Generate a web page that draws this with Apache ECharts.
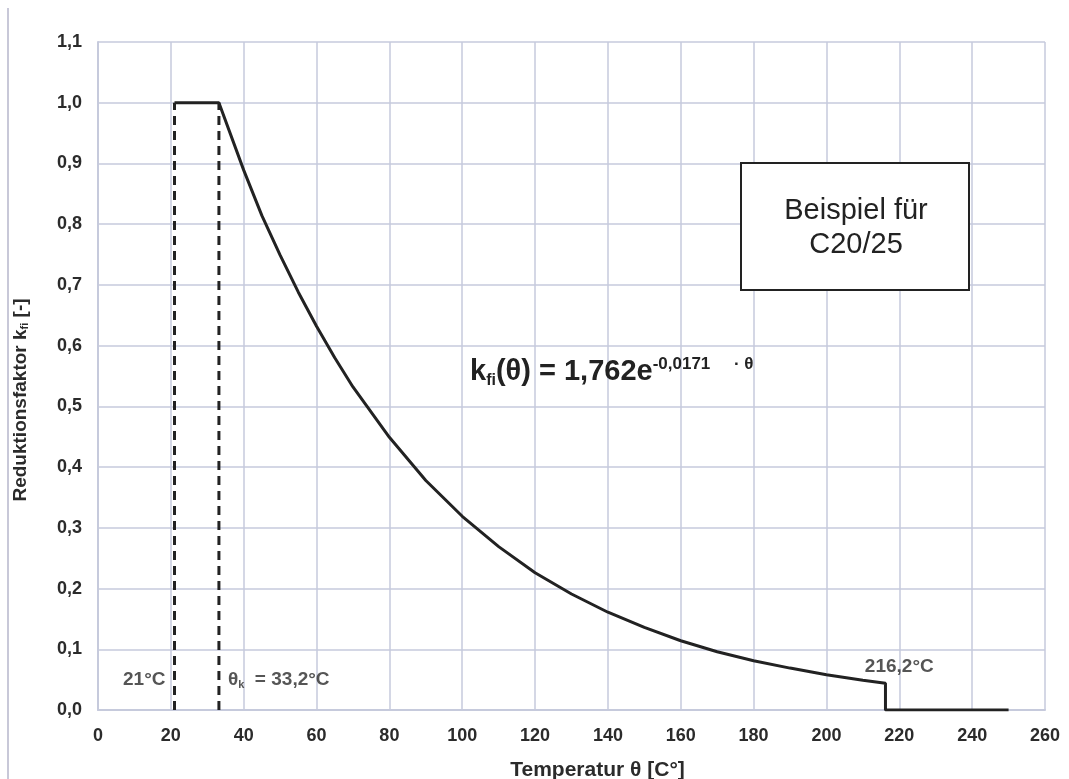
<!DOCTYPE html>
<html><head><meta charset="utf-8">
<script src="https://cdn.jsdelivr.net/npm/echarts@6/dist/echarts.min.js"></script>
<style>html,body{margin:0;padding:0;background:#fff}#c{width:1069px;height:779px}</style>
</head><body><div id="c"></div>
<script>
// Temperatures (°C) and reduction factor k_fi
const curveTemps = [21, 33.2, 40, 45, 50, 55, 60, 65, 70, 80, 90, 100, 110, 120, 130, 140, 150, 160, 170, 180, 190, 200, 210, 216.2, 216.2, 250];
const curveValues = [1.0, 1.0, 0.889, 0.814, 0.749, 0.688, 0.632, 0.580, 0.532, 0.449, 0.378, 0.319, 0.269, 0.226, 0.191, 0.161, 0.136, 0.114, 0.096, 0.081, 0.069, 0.058, 0.049, 0.044, 0.0, 0.0];
const dashedTemps = [21, 33.2];
const dashedTop = 1.0;
const xTicks = [0, 20, 40, 60, 80, 100, 120, 140, 160, 180, 200, 220, 240, 260];
const yTicks = [0, 0.1, 0.2, 0.3, 0.4, 0.5, 0.6, 0.7, 0.8, 0.9, 1.0, 1.1];
const annotations = [
  {text: '21°C', x: 21, y: 0.05, pos: 'left'},
  {text: '{b|θ}{s|k}{b|  = 33,2°C}', x: 33.2, y: 0.05, pos: 'right'},
  {text: '216,2°C', x: 220, y: 0.072, pos: 'inside'}
];

const FONT = '"Liberation Sans", Arial, sans-serif';
const INK = '#2b2b2b';
const GRID = '#c6cadc';
const chart = echarts.init(document.getElementById('c'), null, {renderer: 'canvas'});
const series = [{
  type: 'line',
  data: curveTemps.map((t, i) => [t, curveValues[i]]),
  showSymbol: false,
  lineStyle: {color: '#222', width: 3},
  z: 5
}];
dashedTemps.forEach(t => series.push({
  type: 'line',
  data: [[t, 0], [t, dashedTop]],
  showSymbol: false,
  lineStyle: {color: '#222', width: 3, type: [9, 6]},
  z: 4
}));
series.push({
  type: 'scatter',
  symbolSize: 0,
  data: annotations.map(a => ({
    value: [a.x, a.y],
    label: {show: true, position: a.pos, distance: 9, formatter: a.text}
  })),
  label: {
    color: INK, fontSize: 19, fontWeight: 'bold', fontFamily: FONT,
    rich: {
      b: {fontSize: 19, fontWeight: 'bold', fontFamily: FONT, color: INK},
      s: {fontSize: 11, fontWeight: 'bold', fontFamily: FONT, color: INK, padding: [10, 0, 0, 0]}
    }
  },
  silent: true, z: 6
});

chart.setOption({
  animation: false,
  backgroundColor: '#fff',
  grid: {left: 98, right: 24, top: 42, bottom: 69, containLabel: false, outerBoundsMode: 'none'},
  xAxis: {
    type: 'value', min: 0, max: 260, interval: 20,
    name: 'Temperatur θ [C°]', nameLocation: 'middle', nameGap: 50,
    nameTextStyle: {fontFamily: FONT, fontWeight: 'bold', fontSize: 21, color: INK, padding: [0, 0, 0, 52]},
    axisLine: {show: true, lineStyle: {color: GRID, width: 2}},
    axisTick: {show: false},
    axisLabel: {fontFamily: FONT, fontWeight: 'bold', fontSize: 18, color: INK, margin: 17,
      formatter: v => xTicks.includes(v) ? String(v) : ''},
    splitLine: {lineStyle: {color: GRID, width: 1.5}}
  },
  yAxis: {
    type: 'value', min: 0, max: 1.1, interval: 0.1,
    axisLine: {show: true, lineStyle: {color: GRID, width: 2}},
    axisTick: {show: false},
    axisLabel: {fontFamily: FONT, fontWeight: 'bold', fontSize: 18, color: INK, margin: 16,
      formatter: v => {
        const m = yTicks.find(t => Math.abs(t - v) < 1e-6);
        return m === undefined ? '' : m.toFixed(1).replace('.', ',');
      }},
    splitLine: {lineStyle: {color: GRID, width: 1.5}}
  },
  series: series,
  graphic: [
    {type: 'line', shape: {x1: 8, y1: 8, x2: 8, y2: 779}, style: {stroke: '#c8c8d8', lineWidth: 2}},
    {type: 'text', x: 21, y: 400, rotation: Math.PI / 2, z: 11, style: {
      text: 'Reduktionsfaktor k{s|fi} [-]', align: 'center', verticalAlign: 'middle',
      fontFamily: FONT, fontWeight: 'bold', fontSize: 19, fill: INK,
      rich: {s: {fontFamily: FONT, fontWeight: 'bold', fontSize: 11, fill: INK, padding: [8, 0, 0, 0]}}
    }},
    {type: 'rect', shape: {x: 741, y: 163, width: 228, height: 127}, style: {fill: '#fff', stroke: '#222', lineWidth: 2}, z: 10},
    {type: 'text', x: 856, y: 228, z: 11, style: {text: 'Beispiel für\nC20/25', fontFamily: FONT, fontSize: 29, fill: '#222', align: 'center', verticalAlign: 'middle', lineHeight: 34}},
    {type: 'text', x: 470, y: 372, z: 11, style: {
      text: '{a|k}{s|fi}{a|(θ) = 1,762e}{p|-0,0171     · θ}',
      verticalAlign: 'middle',
      rich: {
        a: {fontFamily: FONT, fontWeight: 'bold', fontSize: 29, fill: '#222'},
        s: {fontFamily: FONT, fontWeight: 'bold', fontSize: 16, fill: '#222', padding: [18, 0, 0, 0]},
        p: {fontFamily: FONT, fontWeight: 'bold', fontSize: 17, fill: '#222', padding: [0, 0, 16, 0]}
      }
    }}
  ]
});
</script></body></html>
